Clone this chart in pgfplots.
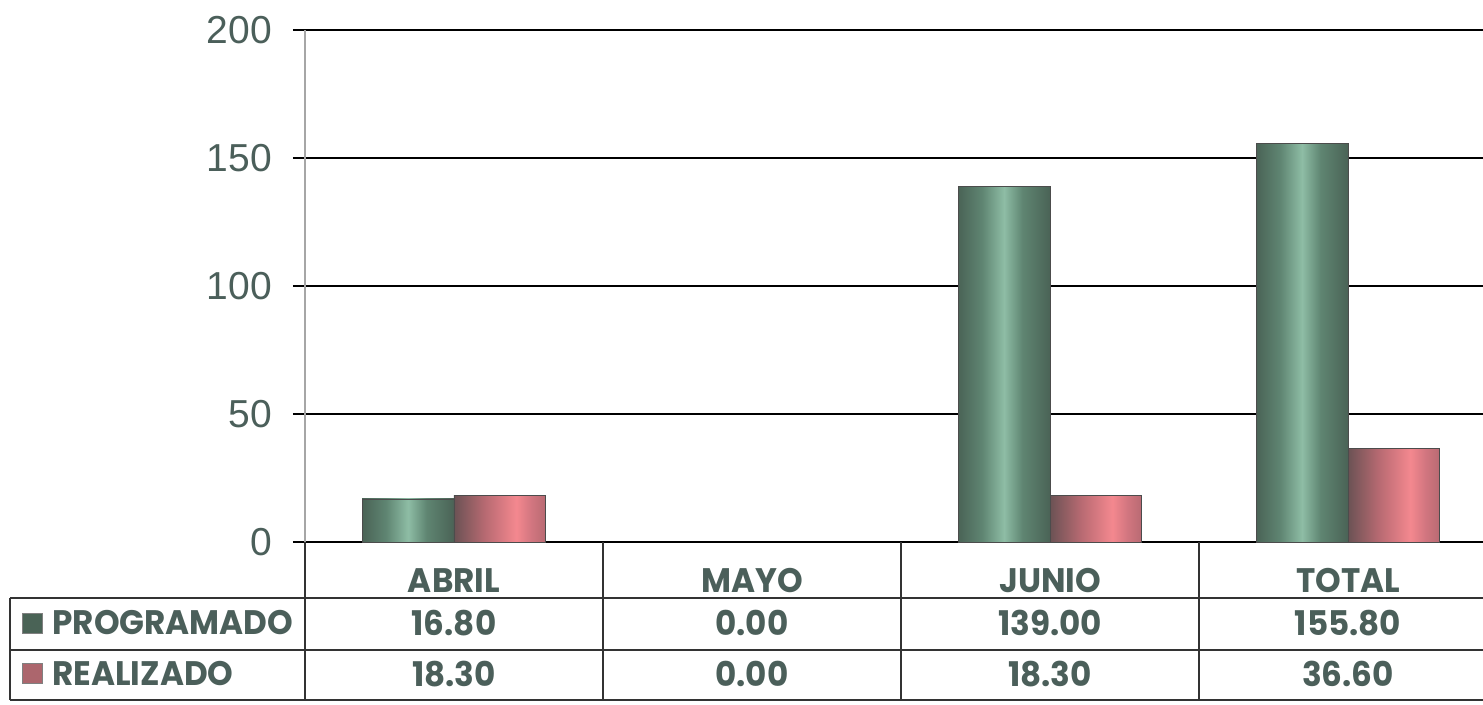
\documentclass[border=0pt]{standalone}
\usepackage{pgfplots}
\pgfplotsset{compat=1.18}
\usepackage{fontspec}
\setmainfont{Liberation Sans}
\newfontfamily\tabfont{Poppins}[FakeStretch=0.96]
\definecolor{tcol}{HTML}{4B5F5A}
\definecolor{gA}{HTML}{4A6356}
\definecolor{gB}{HTML}{5F8572}
\definecolor{gC}{HTML}{8EBDA5}
\definecolor{pA}{HTML}{6B5254}
\definecolor{pB}{HTML}{B86A72}
\definecolor{pC}{HTML}{F4888F}
\definecolor{pD}{HTML}{D27680}
\pgfdeclarehorizontalshading{greenbar}{100bp}{color(0bp)=(gA); color(25bp)=(gA); color(38bp)=(gB); color(50bp)=(gC); color(60bp)=(gB); color(75bp)=(gA); color(100bp)=(gA)}
\pgfdeclarehorizontalshading{pinkbar}{100bp}{color(0bp)=(pA); color(25bp)=(pA); color(42bp)=(pB); color(59bp)=(pC); color(67bp)=(pD); color(75bp)=(pB); color(100bp)=(pB)}
\begin{document}
\begin{tikzpicture}
\begin{axis}[
  scale only axis, width=589pt, height=256pt,
  xmin=-0.5, xmax=3.453, ymin=0, ymax=200,
  ytick={0,50,100,150,200}, xtick=\empty,
  ymajorgrids, major grid style={black, line width=0.85pt},
  axis x line*=bottom, axis y line*=left,
  x axis line style={black, line width=0.9pt, -},
  y axis line style={gray!70, line width=0.6pt, -},
  ytick style={black, line width=0.85pt}, tick align=outside, major tick length=6pt,
  /pgf/number format/assume math mode=true,
  yticklabel style={font=\fontsize{19.5}{20}\selectfont, text=tcol, xshift=-7pt},
  ybar, bar width=0.308,
  clip=false,
  gbar/.style={ybar, bar shift=-0.154, shade, shading=greenbar, draw=black!70, line width=0.4pt, forget plot},
  pbar/.style={ybar, bar shift=0.154, shade, shading=pinkbar, draw=black!70, line width=0.4pt, forget plot},
]
% PROGRAMADO: ABRIL 16.80, MAYO 0.00, JUNIO 139.00, TOTAL 155.80
\addplot[gbar] coordinates {(0,16.8)};
\addplot[gbar] coordinates {(2,139.0)};
\addplot[gbar] coordinates {(3,155.8)};
% REALIZADO: ABRIL 18.30, MAYO 0.00, JUNIO 18.30, TOTAL 36.60
\addplot[pbar] coordinates {(0,18.3)};
\addplot[pbar] coordinates {(2,18.3)};
\addplot[pbar] coordinates {(3,36.6)};
\coordinate (O) at (rel axis cs:0,0);
% table lines
\draw[black!80, line width=0.8pt] (axis cs:-1.49,-21.9) -- (axis cs:3.453,-21.9);
\draw[black!80, line width=0.8pt] (axis cs:-1.49,-42.2) -- (axis cs:3.453,-42.2);
\draw[black!80, line width=0.8pt] (axis cs:-1.49,-61.7) -- (axis cs:3.453,-61.7);
\draw[black!80, line width=0.8pt] (axis cs:-1.49,-21.9) -- (axis cs:-1.49,-61.7);
\draw[black!80, line width=0.8pt] (axis cs:-0.5,0) -- (axis cs:-0.5,-61.7);
\draw[black!80, line width=0.8pt] (axis cs:0.5,0) -- (axis cs:0.5,-61.7);
\draw[black!80, line width=0.8pt] (axis cs:1.5,0) -- (axis cs:1.5,-61.7);
\draw[black!80, line width=0.8pt] (axis cs:2.5,0) -- (axis cs:2.5,-61.7);
\tikzset{tt/.style={font=\tabfont\bfseries\fontsize{17}{18}\selectfont, text=tcol, inner sep=0pt}}
\node[tt] at (axis cs:0,-15.2) {ABRIL};
\node[tt] at (axis cs:1,-15.2) {MAYO};
\node[tt] at (axis cs:2,-15.2) {JUNIO};
\node[tt] at (axis cs:3,-15.2) {TOTAL};
\node[tt] at (axis cs:0,-31.6) {16.80};
\node[tt] at (axis cs:1,-31.6) {0.00};
\node[tt] at (axis cs:2,-31.6) {139.00};
\node[tt] at (axis cs:3,-31.6) {155.80};
\node[tt] at (axis cs:0,-51.4) {18.30};
\node[tt] at (axis cs:1,-51.4) {0.00};
\node[tt] at (axis cs:2,-51.4) {18.30};
\node[tt] at (axis cs:3,-51.4) {36.60};
\node[tt, anchor=west] at (axis cs:-1.349,-31.6) {PROGRAMADO};
\node[tt, anchor=west] at (axis cs:-1.349,-51.4) {REALIZADO};
\node[fill=gA, draw=black!50, line width=0.3pt, minimum size=10pt, inner sep=0pt] at (axis cs:-1.416,-31.6) {};
\node[fill=pB!85!pA, draw=black!50, line width=0.3pt, minimum size=10pt, inner sep=0pt] at (axis cs:-1.416,-51.2) {};
\end{axis}
\pgfresetboundingbox
\path (O) ++(-152.5pt,-81.5pt) rectangle ++(741.5pt,352.5pt);
\end{tikzpicture}
\end{document}
